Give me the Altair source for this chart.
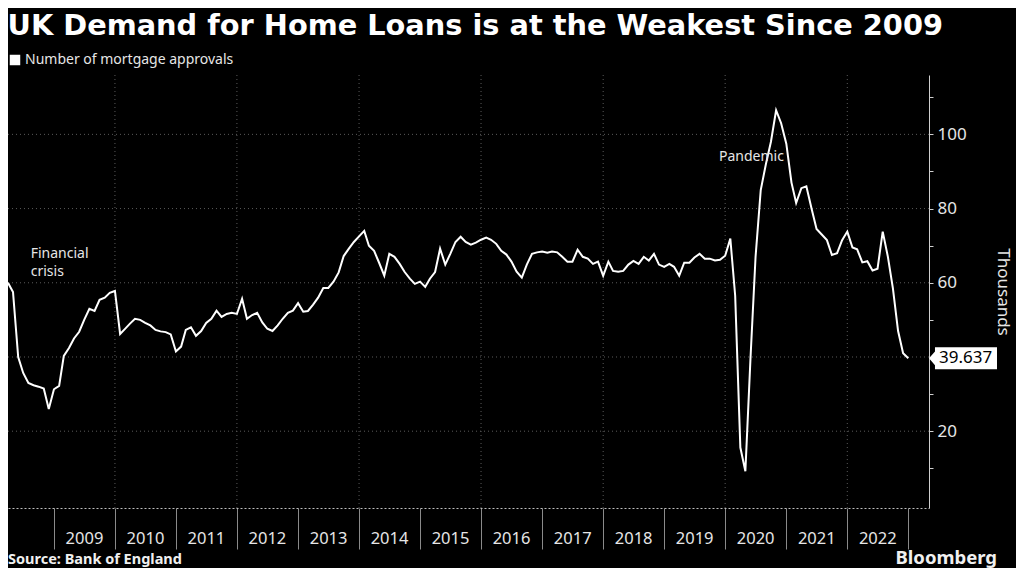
import altair as alt
import pandas as pd

# ---- data (thousands of mortgage approvals, monthly) ----
start_month = "2008-04-01"
approvals = [
    60, 57.5, 40, 35.7, 33, 32.4, 32, 31.5, 26,
    31.3, 32.2, 40.3, 42.4, 45, 46.8, 50, 53, 52.4, 55.4, 56, 57.3, 57.8,
    46.2, 47.5, 49, 50.3, 50, 49.2, 48.5, 47.3, 46.9, 46.7, 46.1, 41.5,
    42.8, 47.3, 48, 45.7, 47, 49.2, 50.3, 52.5, 50.8, 51.6, 51.9, 51.6,
    55.7, 50.3, 51.3, 51.9, 49.3, 47.6, 47, 48.5, 50.3, 51.9, 52.5, 54.5,
    52.2, 52.4, 54.1, 56, 58.6, 58.6, 60.3, 62.8, 67.2, 69.2, 71, 72.5,
    74, 70, 68.6, 65.4, 61.9, 67.8, 67, 65.1, 62.9, 61.1, 59.7, 60.3,
    58.9, 61.1, 62.9, 69.2, 64.9, 67.8, 71, 72.4, 71, 70.3, 70.8, 71.6,
    72.2, 71.6, 70.5, 68.6, 67.6, 65.7, 63,
    61.4, 64.9, 67.8, 68.2, 68.4, 68.1, 68.4, 68.2, 67, 65.7, 65.7, 68.9, 67, 66.5, 65.1, 65.7, 61.9,
    65.7, 63.2, 63, 63.2, 64.9, 65.9, 65.1, 67, 66, 67.8, 64.9, 64.3,
    65.1, 64.3, 61.9, 65.4, 65.4, 66.8, 67.8, 66.5, 66.5, 66, 66.2, 67.3,
    71.9, 56.5, 15.6, 9.2, 40, 67, 85, 92, 98, 106.5, 103, 97.5, 87, 81.5, 85.5, 86,
    80, 74.5, 73, 71.5, 67.5, 68, 71.5, 73.8, 69.5, 69, 65.5, 65.8, 63.3, 63.8, 73.8, 67,
    58.5, 47, 41, 39.637,
]
series_name = ["Number of mortgage approvals"]
year_ticks = [f"{y}-01-01" for y in range(2009, 2024)]
grid_years = [f"{y}-01-01" for y in range(2010, 2023, 2)]
y_grid = [20, 40, 60, 80, 100]
y_ticks = [10, 20, 30, 40, 50, 60, 70, 80, 90, 100, 110]
annot_text = ["Financial\ncrisis", "Pandemic"]
annot_date = ["2008-08-15", "2019-11-25"]
annot_value = [66.6, 92.7]
x_domain = ["2008-04-01", "2023-05-05"]
y_domain = [-0.7, 116]

dates = pd.date_range(start_month, periods=len(approvals), freq="MS")
df = pd.DataFrame({"date": dates, "value": approvals, "series": series_name * len(approvals)})
last = df.tail(1).copy()
last["label"] = [f"{v:.3f}" for v in last["value"]]

W, H = 921, 433
FONT = "Noto Sans"
TXT = "#e6e6e6"

xscale = alt.Scale(domain=x_domain)
yscale = alt.Scale(domain=y_domain, nice=False, zero=False)

vgrid = alt.Chart(pd.DataFrame({"date": pd.to_datetime(grid_years)})).mark_rule(
    color="#5a5a5a", strokeDash=[1, 3], strokeWidth=1
).encode(x=alt.X("date:T", scale=xscale))

hgrid = alt.Chart(pd.DataFrame({"v": y_grid})).mark_rule(
    color="#5a5a5a", strokeDash=[1, 3], strokeWidth=1
).encode(y=alt.Y("v:Q", scale=yscale))

line = alt.Chart(df).mark_line(strokeWidth=2, clip=True).encode(
    x=alt.X(
        "date:T",
        scale=xscale,
        title=None,
        axis=alt.Axis(
            values=year_ticks,
            format="%Y",
            labelExpr="year(datum.value) == 2023 ? '' : datum.label",
            grid=False,
            tickSize=41,
            tickColor="#8a8a8a",
            tickWidth=1,
            domainColor="#bdbdbd",
            domainDash=[2, 2],
            labelOffset=30,
            labelPadding=-19,
            labelFontSize=16.5,
            labelFont=FONT,
            labelColor=TXT,
            labelFlush=False,
            labelOverlap=False,
        ),
    ),
    y=alt.Y(
        "value:Q",
        scale=yscale,
        title="Thousands",
        axis=alt.Axis(
            orient="right",
            values=y_ticks,
            labelExpr="(datum.value % 20 == 0 && datum.value != 40) ? datum.label : ''",
            grid=False,
            tickSize=4,
            tickColor="#cfcfcf",
            domainColor="#cfcfcf",
            labelPadding=4,
            labelFontSize=17,
            labelFont=FONT,
            labelColor=TXT,
            titleFont=FONT,
            titleFontSize=17,
            titleFontWeight="normal",
            titleColor=TXT,
            titlePadding=27,
            titleAngle=90,
        ),
    ),
    color=alt.Color(
        "series:N",
        scale=alt.Scale(domain=series_name, range=["#ffffff"]),
        legend=alt.Legend(
            orient="none",
            legendX=0,
            legendY=-22,
            title=None,
            symbolType="square",
            symbolSize=110,
            symbolFillColor="#ffffff",
            symbolStrokeColor="#ffffff",
            symbolStrokeWidth=0,
            labelFontSize=14,
            labelFont=FONT,
            labelColor=TXT,
            labelLimit=0,
            padding=0,
            labelOffset=3,
        ),
    ),
)

callout_shape = "M0,0L0.176,-0.2L0.176,-0.3235L2,-0.3235L2,0.3235L0.176,0.3235L0.176,0.2Z"
callout = alt.Chart(last).mark_point(
    shape=callout_shape, size=4624, filled=True, color="#ffffff", opacity=1, strokeWidth=0
).encode(x=alt.value(W), y=alt.Y("value:Q", scale=yscale))

callout_text = alt.Chart(last).mark_text(
    align="left", baseline="middle", fontSize=17, font=FONT, color="#000000", dx=0
).encode(x=alt.value(W + 10), y=alt.Y("value:Q", scale=yscale), text="label:N")

annots = alt.Chart(
    pd.DataFrame({"t": annot_text, "date": pd.to_datetime(annot_date), "v": annot_value})
).mark_text(
    align="left", baseline="alphabetic", fontSize=14, font=FONT, color=TXT, lineBreak="\n", lineHeight=18
).encode(x=alt.X("date:T", scale=xscale), y=alt.Y("v:Q", scale=yscale), text="t:N")

source = alt.Chart(pd.DataFrame({"t": ["Source: Bank of England"]})).mark_text(
    align="left", baseline="alphabetic", fontSize=14.5, font=FONT, fontWeight="bold", color="#f0f0f0"
).encode(x=alt.value(0), y=alt.value(H + 56), text="t:N")

brand = alt.Chart(pd.DataFrame({"t": ["Bloomberg"]})).mark_text(
    align="right", baseline="alphabetic", fontSize=18.5, font=FONT, fontWeight="bold", color="#f0f0f0"
).encode(x=alt.value(989), y=alt.value(H + 56), text="t:N")

chart = (
    alt.layer(vgrid, hgrid, line, callout, callout_text, annots, source, brand)
    .properties(
        width=W,
        height=H,
        title=alt.TitleParams(
            "UK Demand for Home Loans is at the Weakest Since 2009",
            anchor="start",
            font="DejaVu Sans",
            fontSize=28.8,
            fontWeight="bold",
            color="#ffffff",
            offset=34,
            dx=0,
            dy=22,
        ),
        autosize=alt.AutoSizeParams(type="none"),
        padding={"left": 0, "top": 67, "right": 87, "bottom": 60},
        background="#000000",
    )
    .configure_view(stroke=None)
)

chart.save("out.html", embed_options={"renderer": "svg", "actions": False})
